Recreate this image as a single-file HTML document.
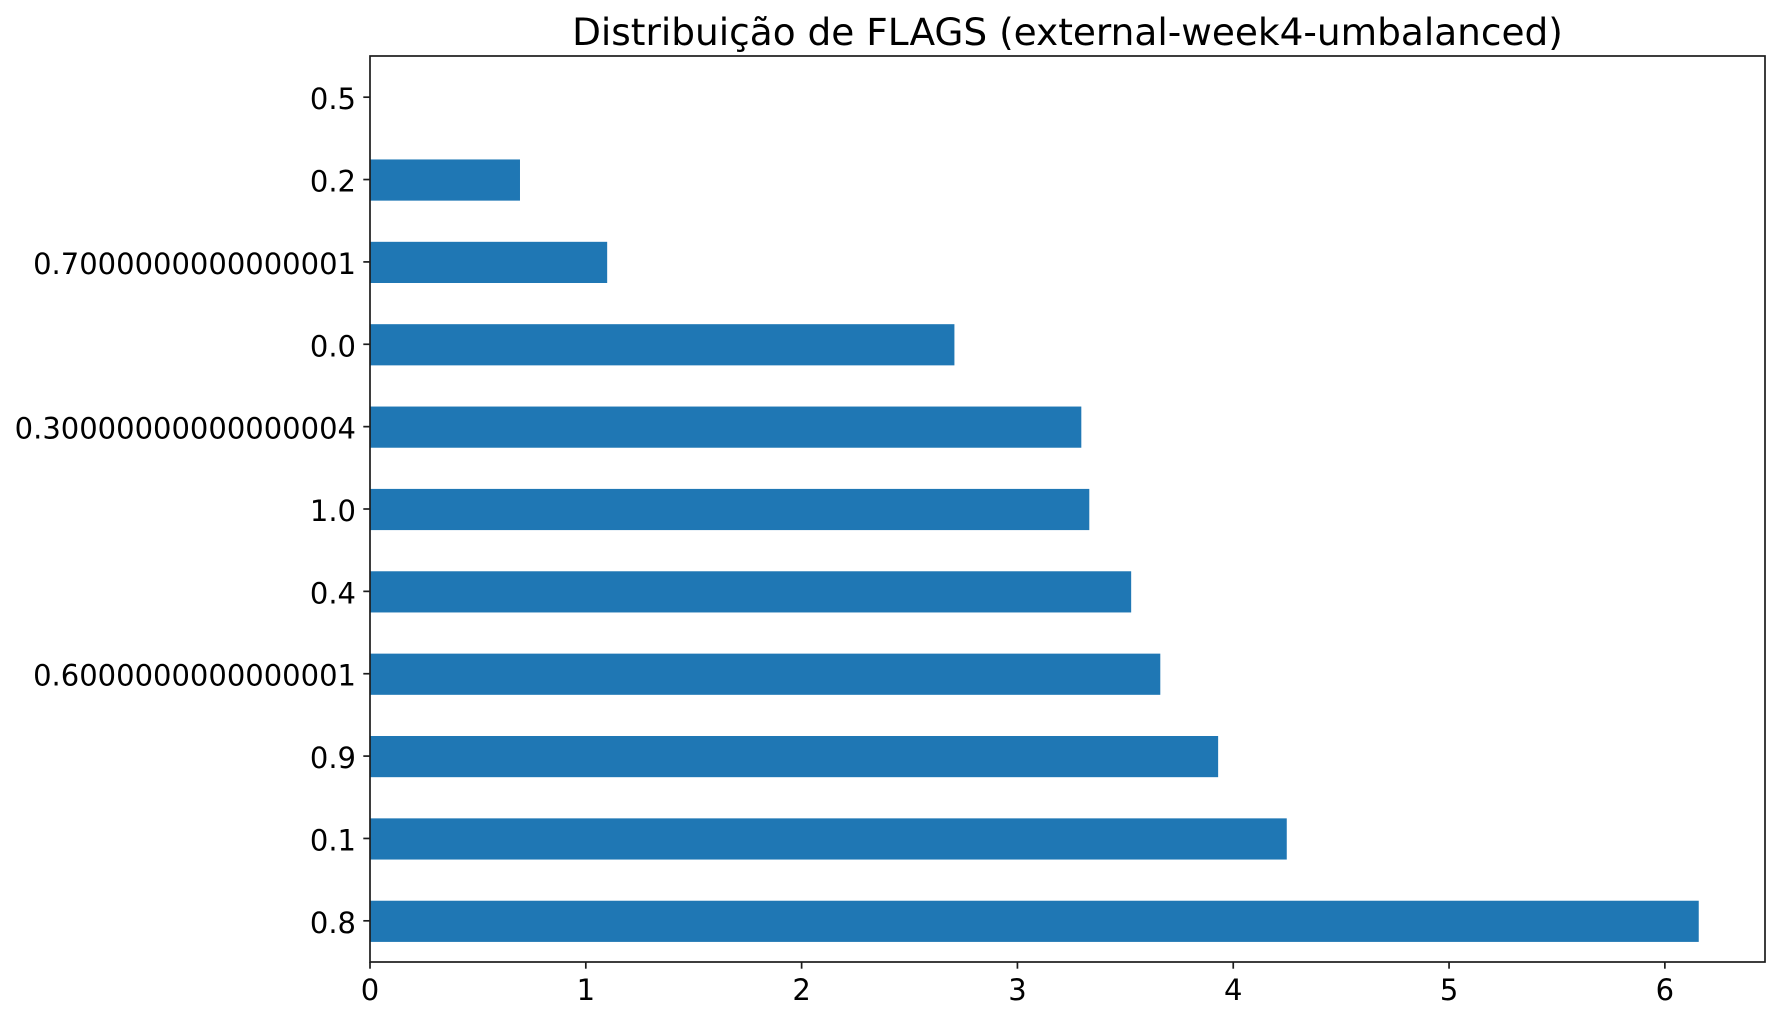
<!DOCTYPE html>
<html lang="pt">
<head>
<meta charset="utf-8">
<title>Distribuição de FLAGS (external-week4-umbalanced)</title>
<style>
html,body{margin:0;padding:0;background:#fff;width:1779px;height:1020px;overflow:hidden}
svg{display:block}
text{font-family:"DejaVu Sans",sans-serif;fill:#000}
.tick-text{font-size:29px}
</style>
</head>
<body>
<svg id="chart" width="1779" height="1020" viewBox="0 0 1779 1020" xmlns="http://www.w3.org/2000/svg">
<rect x="0" y="0" width="1779" height="1020" fill="#ffffff"/>
<text x="1067.5" y="45" text-anchor="middle" font-size="37.45">Distribuição de FLAGS (external-week4-umbalanced)</text>
<g id="bars"></g>
<g id="y-axis"></g>
<g id="x-axis"></g>
<g id="spines"></g>
</svg>
<script>
// Categories listed bottom to top, as on the axis
const categories = ["0.8", "0.1", "0.9", "0.6000000000000001", "0.4", "1.0", "0.30000000000000004", "0.0", "0.7000000000000001", "0.2", "0.5"];
const values = [6.157, 4.248, 3.93, 3.662, 3.527, 3.333, 3.296, 2.708, 1.099, 0.695, 0];
const xTickValues = [0, 1, 2, 3, 4, 5, 6];
const xTickLabels = ["0", "1", "2", "3", "4", "5", "6"];

const SVG_NS = "http://www.w3.org/2000/svg";
const plot = { left: 370, right: 1765, top: 56, bottom: 962 };
const xDomainMax = 6.464;
const barWidth = 0.5;
const tickLength = 6.7;
const axisColor = "#1c1c1c";
const axisWidth = 1.7;

function xScale(v) {
  return plot.left + (v / xDomainMax) * (plot.right - plot.left);
}
function yScale(i) {
  const span = categories.length;
  return plot.bottom - ((i + 0.5) / span) * (plot.bottom - plot.top);
}
function make(tag, attrs, parent) {
  const el = document.createElementNS(SVG_NS, tag);
  for (const k in attrs) el.setAttribute(k, attrs[k]);
  parent.appendChild(el);
  return el;
}

const barsGroup = document.getElementById("bars");
const yGroup = document.getElementById("y-axis");
const xGroup = document.getElementById("x-axis");
const spineGroup = document.getElementById("spines");
const unitHeight = (plot.bottom - plot.top) / categories.length;

categories.forEach(function (cat, i) {
  const cy = yScale(i);
  const bar = make("rect", {
    x: xScale(0),
    y: cy - unitHeight * barWidth / 2 + 0.5,
    width: xScale(values[i]) - xScale(0),
    height: unitHeight * barWidth,
    fill: "#1f77b4"
  }, barsGroup);
  
  

  const tick = make("line", {
    x1: plot.left - tickLength, x2: plot.left, y1: cy, y2: cy,
    stroke: axisColor, "stroke-width": axisWidth
  }, yGroup);
  
  

  const label = make("text", {
    x: 356,
    y: cy + 12,
    "text-anchor": "end",
    "class": "tick-text"
  }, yGroup);
  label.textContent = cat;
  
  
});

xTickValues.forEach(function (v, i) {
  const x = xScale(v);
  const tick = make("line", {
    x1: x, x2: x, y1: plot.bottom, y2: plot.bottom + tickLength,
    stroke: axisColor, "stroke-width": axisWidth
  }, xGroup);
  
  

  const label = make("text", {
    x: x,
    y: 1000,
    "text-anchor": "middle",
    "class": "tick-text"
  }, xGroup);
  label.textContent = xTickLabels[i];
  
  
});

const frame = make("rect", {
  x: plot.left,
  y: plot.top,
  width: plot.right - plot.left,
  height: plot.bottom - plot.top,
  fill: "none",
  stroke: axisColor,
  "stroke-width": axisWidth
}, spineGroup);


</script>
</body>
</html>
